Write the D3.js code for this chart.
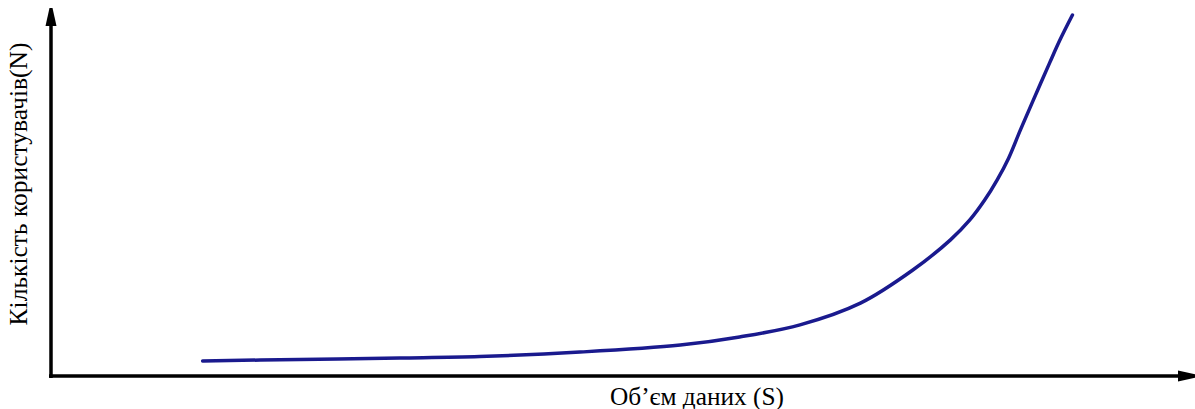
<!DOCTYPE html>
<html>
  <head>
    <meta charset="utf-8">
    <title>Кількість користувачів від обсягу даних</title>
    <script src="https://cdn.jsdelivr.net/npm/d3@7/dist/d3.min.js"></script>
    <style>
      body { margin: 0; background: #fff; }
      svg { display: block; }
      .title { font-family: "Liberation Serif", "Times New Roman", serif; fill: #000; }
    </style>
  </head>

  <body>
    <svg id="chart" width="1195" height="409"></svg>

    <script>
      // data (S in %, N in %)
      volume = [13.3, 21.8, 30.6, 37.6, 46.4, 55.2, 60.4, 65.7, 71.0, 75.6,
                78.9, 80.6, 81.9, 83.0, 84.0, 85.0, 86.1, 87.6, 88.5, 89.6];
      users = [4.1, 4.5, 4.9, 5.3, 6.5, 8.4, 10.6, 13.9, 19.8, 28.8,
               37.0, 42.4, 47.8, 53.3, 59.2, 66.6, 74.5, 85.1, 91.3, 98.1];
      xTitle = "Об’єм даних (S)";
      yTitle = "Кількість користувачів(N)";

      // page elements
      svg = d3.select("#chart");
      origin = { x: 51, y: 376 };

      x = d3.scaleLinear()
        .domain([0, 100])
        .range([origin.x, 1191]);
      y = d3.scaleLinear()
        .domain([0, 100])
        .range([origin.y, 8]);

      // axes
      svg.append("line")
        .attr("x1", origin.x).attr("y1", origin.y + 2)
        .attr("x2", origin.x).attr("y2", 22)
        .attr("stroke", "#000")
        .attr("stroke-width", 3.5);
      svg.append("line")
        .attr("x1", origin.x - 2).attr("y1", origin.y)
        .attr("x2", 1182).attr("y2", origin.y)
        .attr("stroke", "#000")
        .attr("stroke-width", 3.5);

      // arrow heads
      svg.append("path")
        .attr("d", "M" + (origin.x - 1.5) + ",8 L" + (origin.x + 1.5) + ",8 L" +
          (origin.x + 5.5) + ",26 L" + (origin.x - 5.5) + ",26 Z")
        .attr("fill", "#000");
      svg.append("path")
        .attr("d", "M1178," + (origin.y - 5.5) + " L1196," + (origin.y - 1.5) +
          " L1196," + (origin.y + 1.5) + " L1178," + (origin.y + 5.5) + " Z")
        .attr("fill", "#000");

      // curve
      line = d3.line()
        .x(function(d, i) { return x(volume[i]); })
        .y(function(d) { return y(d); })
        .curve(d3.curveCatmullRom.alpha(0.5));
      svg.append("path")
        .datum(users)
        .attr("d", line)
        .attr("fill", "none")
        .attr("stroke", "#1a1a8e")
        .attr("stroke-width", 3.5)
        .attr("stroke-linecap", "round");

      // titles
      xLabel = svg.append("text")
        .attr("class", "title")
        .attr("x", 697)
        .attr("y", 405)
        .attr("text-anchor", "middle")
        .style("font-size", "22px")
        .text(xTitle);
      yLabel = svg.append("text")
        .attr("class", "title")
        .attr("transform", "translate(27,184) rotate(-90)")
        .attr("text-anchor", "middle")
        .style("font-size", "22px")
        .text(yTitle);

      // size the titles to the lengths seen in the original
      fit(xLabel, 174);
      fit(yLabel, 283);

      function fit(label, target) {
        let w = label.node().getComputedTextLength();
        if (w > 0) label.style("font-size", (22 * target / w) + "px");
      }
    </script>
  </body>
</html>
